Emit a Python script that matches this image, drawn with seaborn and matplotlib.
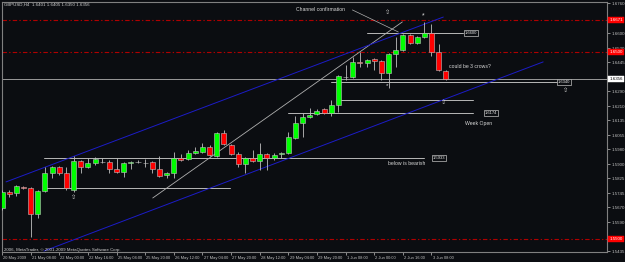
import matplotlib
matplotlib.use("Agg")
import matplotlib.pyplot as plt
import matplotlib.transforms as mtrans
import seaborn as sns
import numpy as np
import pandas as pd

# ---------------- data ----------------
tick_bars = [0, 4, 8, 12, 16, 20, 24, 28, 32, 36, 40, 44, 48, 52, 56, 60]
tick_labels = ["20 May 2009", "21 May 08:00", "22 May 00:00", "22 May 16:00",
               "25 May 04:00", "25 May 20:00", "26 May 12:00", "27 May 04:00",
               "27 May 20:00", "28 May 12:00", "29 May 04:00", "29 May 20:00",
               "1 Jun 08:00", "2 Jun 00:00", "2 Jun 16:00", "3 Jun 08:00"]

opens = [1.5665, 1.5751, 1.5746, 1.5778, 1.5772, 1.5633, 1.5756, 1.5853, 1.5885, 1.5853,
         1.5762, 1.5917, 1.5885, 1.5906, 1.5912, 1.5912, 1.5874, 1.5858, 1.5906, 1.5912,
         1.5906, 1.5912, 1.5874, 1.5842, 1.5853, 1.5933, 1.5928, 1.5960, 1.5965, 1.5992,
         1.5944, 1.6067, 1.6002, 1.5954, 1.5901, 1.5933, 1.5917, 1.5954, 1.5933, 1.5954,
         1.5960, 1.6040, 1.6120, 1.6152, 1.6168, 1.6195, 1.6174, 1.6216, 1.6366, 1.6366,
         1.6447, 1.6441, 1.6463, 1.6452, 1.6388, 1.6489, 1.6511, 1.6591, 1.6548, 1.6580,
         1.6602, 1.6500, 1.6401]
highs = [1.5762, 1.5762, 1.5788, 1.5783, 1.5778, 1.5762, 1.5885, 1.5890, 1.5890, 1.5885,
         1.5944, 1.5922, 1.5933, 1.5938, 1.5933, 1.5922, 1.5933, 1.5912, 1.5917, 1.5922,
         1.5928, 1.5917, 1.5944, 1.5858, 1.5965, 1.5954, 1.5976, 1.5992, 1.6013, 1.6002,
         1.6072, 1.6083, 1.6008, 1.5965, 1.5938, 1.5976, 1.6013, 1.5960, 1.5960, 1.5965,
         1.6072, 1.6158, 1.6174, 1.6200, 1.6195, 1.6200, 1.6243, 1.6377, 1.6430, 1.6473,
         1.6500, 1.6463, 1.6468, 1.6457, 1.6495, 1.6580, 1.6596, 1.6596, 1.6586, 1.6661,
         1.6650, 1.6543, 1.6405]
lows = [1.5655, 1.5724, 1.5730, 1.5767, 1.5510, 1.5612, 1.5751, 1.5826, 1.5842, 1.5762,
        1.5751, 1.5853, 1.5879, 1.5895, 1.5906, 1.5853, 1.5853, 1.5831, 1.5874, 1.5906,
        1.5885, 1.5853, 1.5831, 1.5826, 1.5826, 1.5917, 1.5922, 1.5954, 1.5960, 1.5944,
        1.5938, 1.6002, 1.5949, 1.5885, 1.5853, 1.5912, 1.5869, 1.5869, 1.5922, 1.5933,
        1.5954, 1.6035, 1.6045, 1.6147, 1.6163, 1.6168, 1.6158, 1.6179, 1.6350, 1.6361,
        1.6420, 1.6420, 1.6404, 1.6350, 1.6307, 1.6420, 1.6505, 1.6543, 1.6543, 1.6575,
        1.6479, 1.6398, 1.6350]
closes = [1.5751, 1.5740, 1.5783, 1.5772, 1.5633, 1.5756, 1.5853, 1.5885, 1.5853, 1.5772,
          1.5917, 1.5885, 1.5906, 1.5928, 1.5914, 1.5874, 1.5858, 1.5906, 1.5912, 1.5913,
          1.5907, 1.5874, 1.5837, 1.5853, 1.5933, 1.5922, 1.5960, 1.5970, 1.5992, 1.5949,
          1.6067, 1.6008, 1.5954, 1.5901, 1.5933, 1.5917, 1.5954, 1.5933, 1.5949, 1.5960,
          1.6045, 1.6120, 1.6152, 1.6163, 1.6184, 1.6174, 1.6216, 1.6372, 1.6367, 1.6447,
          1.6441, 1.6457, 1.6452, 1.6388, 1.6489, 1.6511, 1.6591, 1.6548, 1.6580, 1.6602,
          1.6500, 1.6404, 1.6356]

# price scale labels (those hidden under the coloured price tags are left out)
price_ticks = [1.6760, 1.6600, 1.6520, 1.6445, 1.6290, 1.6210, 1.6135,
               1.6055, 1.5980, 1.5900, 1.5825, 1.5745, 1.5670, 1.5590, 1.5435]

red_levels = [1.6671, 1.6500, 1.5500]
bid_price = 1.6356

# horizontal line objects: level, start bar, end bar
hline_levels = [1.6600, 1.6340, 1.6243, 1.6174, 1.5933, 1.5772]
hline_start = [51.05, 45.9, 47.0, 39.9, 5.86, 5.86]
hline_end = [64.4, 77.5, 65.8, 65.8, 58.9, 31.9]
hline_tags = ["1.6600", "1.6340", "", "1.6174", "1.5933", ""]
hline_tag_bar = [64.6, 77.7, 0, 67.5, 60.2, 0]

# trend lines (bar, price)
grey_trend_x = [21.06, 55.93]
grey_trend_y = [1.5719, 1.6661]
leader_x = [48.95, 55.37]
leader_y = [1.6725, 1.6607]
blue_up_x = [0.56, 61.65]
blue_up_y = [1.5805, 1.6687]
blue_lo_x = [5.86, 75.6]
blue_lo_y = [1.5435, 1.6447]

notes = ["Channel confirmation", "could be 3 crows?", "Week Open", "below is bearish"]
note_x = [41.14, 62.48, 64.7, 53.97]
note_y = [1.6730, 1.6420, 1.6115, 1.5906]

arrow_x = [10.04, 61.65, 78.8, 53.8]
arrow_y = [1.5719, 1.6229, 1.6292, 1.6709]

# ---------------- style ----------------
bg = "#0b0d11"
sns.set_theme(style="dark", rc={
    "axes.facecolor": bg, "figure.facecolor": bg, "axes.edgecolor": "#808080",
    "axes.grid": False, "text.color": "#d0d0d0", "xtick.color": "#c0c0c0",
    "ytick.color": "#c0c0c0",
})
plt.rcParams["font.family"] = ["Liberation Sans", "DejaVu Sans"]

df = pd.DataFrame({"bar": np.arange(len(opens)), "open": opens, "high": highs,
                   "low": lows, "close": closes})
df["up"] = df["close"] >= df["open"]
df["bottom"] = df[["open", "close"]].min(axis=1)
df["height"] = (df["close"] - df["open"]).abs()

fig = plt.figure(figsize=(6.25, 2.62), dpi=100)
ax = fig.add_axes([2 / 625, 10 / 262, 605 / 625, 250 / 262])
ax.set_facecolor(bg)

ax.set_xlim(0.14, 84.52)
ax.set_ylim(1.5430, 1.67675)

dashdot = (0, (4, 2, 1.2, 2))
for lv in red_levels:
    ax.axhline(lv, color="#b00000", lw=0.8, ls=dashdot, zorder=1)

ax.axhline(bid_price, color="#9a9a9a", lw=0.7, zorder=1)

for lv, s, e in zip(hline_levels, hline_start, hline_end):
    ax.plot([s, e], [lv, lv], color="#b8b8b8", lw=0.7, zorder=2)

ax.plot(grey_trend_x, grey_trend_y, color="#b0b0b0", lw=0.6, zorder=2)
ax.plot(leader_x, leader_y, color="#b0b0b0", lw=0.5, zorder=2)
ax.plot(blue_up_x, blue_up_y, color="#1c1cc8", lw=0.7, zorder=2)
ax.plot(blue_lo_x, blue_lo_y, color="#1c1cc8", lw=0.7, zorder=2)

# candles
ax.vlines(df["bar"], df["low"], df["high"], color="#c0c0c0", lw=0.6, zorder=3)
ax.bar(df["bar"], df["height"].clip(lower=0.00002), bottom=df["bottom"], width=0.7,
       color=np.where(df["up"], "#00ff00", "#ff0000"), edgecolor="#c0c0c0",
       linewidth=0.4, zorder=4)

# tags for horizontal lines
for lv, tag, tb, e in zip(hline_levels, hline_tags, hline_tag_bar, hline_end):
    if tag:
        ax.text(tb, lv, tag, fontsize=3.0, color="#e8e8e8", va="center", ha="left",
                bbox=dict(boxstyle="square,pad=0.2", fc=bg, ec="#c0c0c0", lw=0.5), zorder=6)

for t, x, y in zip(notes, note_x, note_y):
    ax.text(x, y, t, fontsize=3.7, color="#d8d8d8", va="center", ha="left", zorder=6)

for x, y in zip(arrow_x, arrow_y):
    ax.text(x, y, "\u21e7", fontsize=4.5, color="#d0d0d0", va="center", ha="center",
            family=["DejaVu Sans"], zorder=6)
ax.text(58.86, 1.6693, "*", fontsize=5, color="#e0e0e0", va="center", ha="center", zorder=6)
ax.text(53.8, 1.6318, "*", fontsize=4.5, color="#e0e0e0", va="center", ha="center", zorder=6)

# axes formatting
ax.yaxis.tick_right()
ax.set_yticks(price_ticks)
ax.set_yticklabels([f"{v:.4f}" for v in price_ticks])
ax.set_xticks(tick_bars)
ax.set_xticklabels(tick_labels, ha="left")
ax.tick_params(axis="y", labelsize=3.2, length=2, width=0.5, pad=1.2, colors="#c0c0c0",
               right=True, left=False)
ax.tick_params(axis="x", labelsize=2.9, length=2, width=0.5, pad=1.0, colors="#c0c0c0",
               bottom=True)
for lbl in ax.get_xticklabels():
    lbl.set_transform(lbl.get_transform() + mtrans.ScaledTranslation(1.2 / 100, 0, fig.dpi_scale_trans))
for sp in ax.spines.values():
    sp.set_color("#808080")
    sp.set_linewidth(0.8)

trans = mtrans.blended_transform_factory(ax.transAxes, ax.transData)
for lv in red_levels:
    ax.text(1.004, lv, f"{lv:.4f}", transform=trans, fontsize=3.2, color="white",
            va="center", ha="left", clip_on=False, zorder=10,
            bbox=dict(boxstyle="square,pad=0.25", fc="#ff0000", ec="#ff0000", lw=0.3))
ax.text(1.004, bid_price, f"{bid_price:.4f}", transform=trans, fontsize=3.2, color="black",
        va="center", ha="left", clip_on=False, zorder=10,
        bbox=dict(boxstyle="square,pad=0.25", fc="white", ec="white", lw=0.3))

ax.text(0.003, 0.988, "GBPUSD,H4  1.6401 1.6405 1.6350 1.6356", transform=ax.transAxes,
        fontsize=3.2, color="#d0d0d0", va="center", ha="left")
ax.text(0.003, 0.01, "2006, MetaTrader, \u00a9 2001-2009 MetaQuotes Software Corp.",
        transform=ax.transAxes, fontsize=3.2, color="#d0d0d0", va="center", ha="left")

fig.savefig("out.png", dpi=100, facecolor=bg)
